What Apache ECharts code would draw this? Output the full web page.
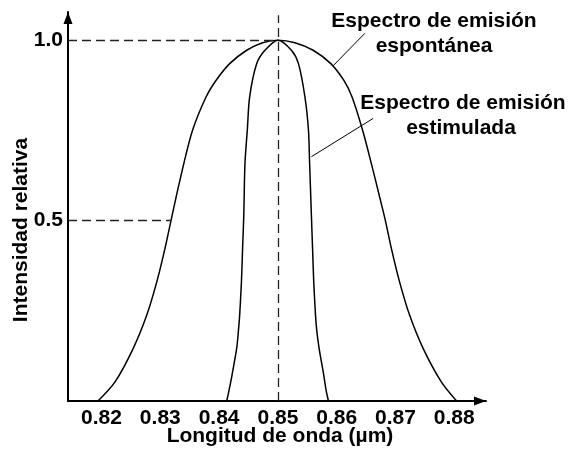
<!DOCTYPE html>
<html>
<head>
<meta charset="utf-8">
<script src="https://cdn.jsdelivr.net/npm/echarts@6/dist/echarts.min.js"></script>
<style>html,body{margin:0;padding:0;background:#fff}#c{width:570px;height:450px}</style>
</head>
<body>
<div id="c"></div>
<script>
// Data
var xTicks = [0.82, 0.83, 0.84, 0.85, 0.86, 0.87, 0.88];
var yTicks = [0.5, 1.0];
var spontX = [0.8194, 0.8223, 0.8254, 0.8277, 0.8294, 0.8308, 0.8319, 0.8327, 0.8340, 0.8355, 0.8378, 0.8395, 0.8418, 0.8447, 0.8474, 0.8500,
              0.8529, 0.8560, 0.8590, 0.8612, 0.8626, 0.8644, 0.8659, 0.8673, 0.8682, 0.8693, 0.8707, 0.8724, 0.8747, 0.8778, 0.8804];
var spontY = [0, 0.053, 0.146, 0.238, 0.330, 0.423, 0.506, 0.566, 0.658, 0.751, 0.843, 0.889, 0.935, 0.972, 0.993, 1.0,
              0.993, 0.972, 0.935, 0.889, 0.843, 0.751, 0.658, 0.566, 0.506, 0.423, 0.330, 0.238, 0.146, 0.053, 0];
var stimX = [0.8413, 0.8417, 0.8422, 0.8430, 0.8433, 0.8435, 0.8438, 0.8440, 0.8442, 0.8444, 0.8448, 0.8452, 0.8464, 0.8478, 0.8500,
             0.8523, 0.8535, 0.8546, 0.8552, 0.8554, 0.8557, 0.8559, 0.8561, 0.8564, 0.8566, 0.8570, 0.8578, 0.8582, 0.8586];
var stimY = [0, 0.030, 0.072, 0.147, 0.197, 0.238, 0.330, 0.424, 0.515, 0.658, 0.751, 0.843, 0.935, 0.972, 1.0,
             0.972, 0.935, 0.843, 0.751, 0.658, 0.515, 0.423, 0.330, 0.238, 0.197, 0.147, 0.072, 0.030, 0];
var peakX = 0.85;
var halfX = 0.8318;
var xMin = 0.8143, xMax = 0.8854, yMax = 1.078;
var spontLeader = [[0.8594, 0.929], [0.8648, 1.019]];
var stimLeader = [[0.8557, 0.677], [0.8662, 0.783]];
var spontLabel = ['Espectro de emisión', 'espontánea'];
var stimLabel = ['Espectro de emisión', 'estimulada'];
var xTitle = 'Longitud de onda (µm)';
var yTitle = 'Intensidad relativa';

function zip(a, b) { return a.map(function (v, i) { return [v, b[i]]; }); }

var FONT = '"Liberation Sans", Arial, sans-serif';
var dashStyle = { color: '#222', width: 1.3, type: [9, 5] };
function txt(x, y, s, rot) {
  return { type: 'text', x: x, y: y, rotation: rot || 0,
    style: { text: s, fill: '#000', font: 'bold 21px ' + FONT, align: 'center', verticalAlign: 'middle' } };
}

var chart = echarts.init(document.getElementById('c'), null, { renderer: 'canvas' });
chart.setOption({
  animation: false,
  backgroundColor: '#fff',
  grid: { left: 68, top: 12, width: 418, height: 389, containLabel: false, outerBoundsMode: 'none' },
  xAxis: {
    type: 'value', min: xMin, max: xMax,
    axisLine: { show: true, lineStyle: { color: '#000', width: 2 }, symbol: ['none', 'triangle'], symbolSize: [9, 12], symbolOffset: [0, -6] },
    axisTick: { show: false },
    splitLine: { show: false },
    axisLabel: { customValues: xTicks, margin: 7, color: '#000', fontWeight: 'bold', fontSize: 21, fontFamily: FONT,
                 formatter: function (v) { return v.toFixed(2); } }
  },
  yAxis: {
    type: 'value', min: 0, max: yMax,
    axisLine: { show: true, lineStyle: { color: '#000', width: 2 }, symbol: ['none', 'triangle'], symbolSize: [9, 12], symbolOffset: [0, -6] },
    axisTick: { show: false },
    splitLine: { show: false },
    axisLabel: { customValues: yTicks, margin: 5, color: '#000', fontWeight: 'bold', fontSize: 21, fontFamily: FONT,
                 formatter: function (v) { return v.toFixed(1); } }
  },
  graphic: [
    txt(21, 230, yTitle, Math.PI / 2),
    txt(280, 436, xTitle),
    txt(434, 21, spontLabel[0]),
    txt(434, 46, spontLabel[1]),
    txt(463, 103, stimLabel[0]),
    txt(461, 128, stimLabel[1])
  ],
  series: [
    {
      type: 'line', data: zip(spontX, spontY), showSymbol: false, smooth: 0.3,
      lineStyle: { color: '#000', width: 1.5 },
      markLine: {
        silent: true, symbol: ['none', 'none'], label: { show: false },
        lineStyle: dashStyle,
        data: [
          [{ coord: [xMin, 1.0] }, { coord: [peakX, 1.0] }],
          [{ coord: [xMin, 0.5] }, { coord: [halfX, 0.5] }],
          [{ coord: [peakX, 0] }, { coord: [peakX, 1.069] }],
          [{ coord: spontLeader[0], lineStyle: { type: 'solid', color: '#000', width: 1 } }, { coord: spontLeader[1] }],
          [{ coord: stimLeader[0], lineStyle: { type: 'solid', color: '#000', width: 1 } }, { coord: stimLeader[1] }]
        ]
      }
    },
    {
      type: 'line', data: zip(stimX, stimY), showSymbol: false, smooth: 0.3,
      lineStyle: { color: '#000', width: 1.5 }
    }
  ]
});
</script>
</body>
</html>
